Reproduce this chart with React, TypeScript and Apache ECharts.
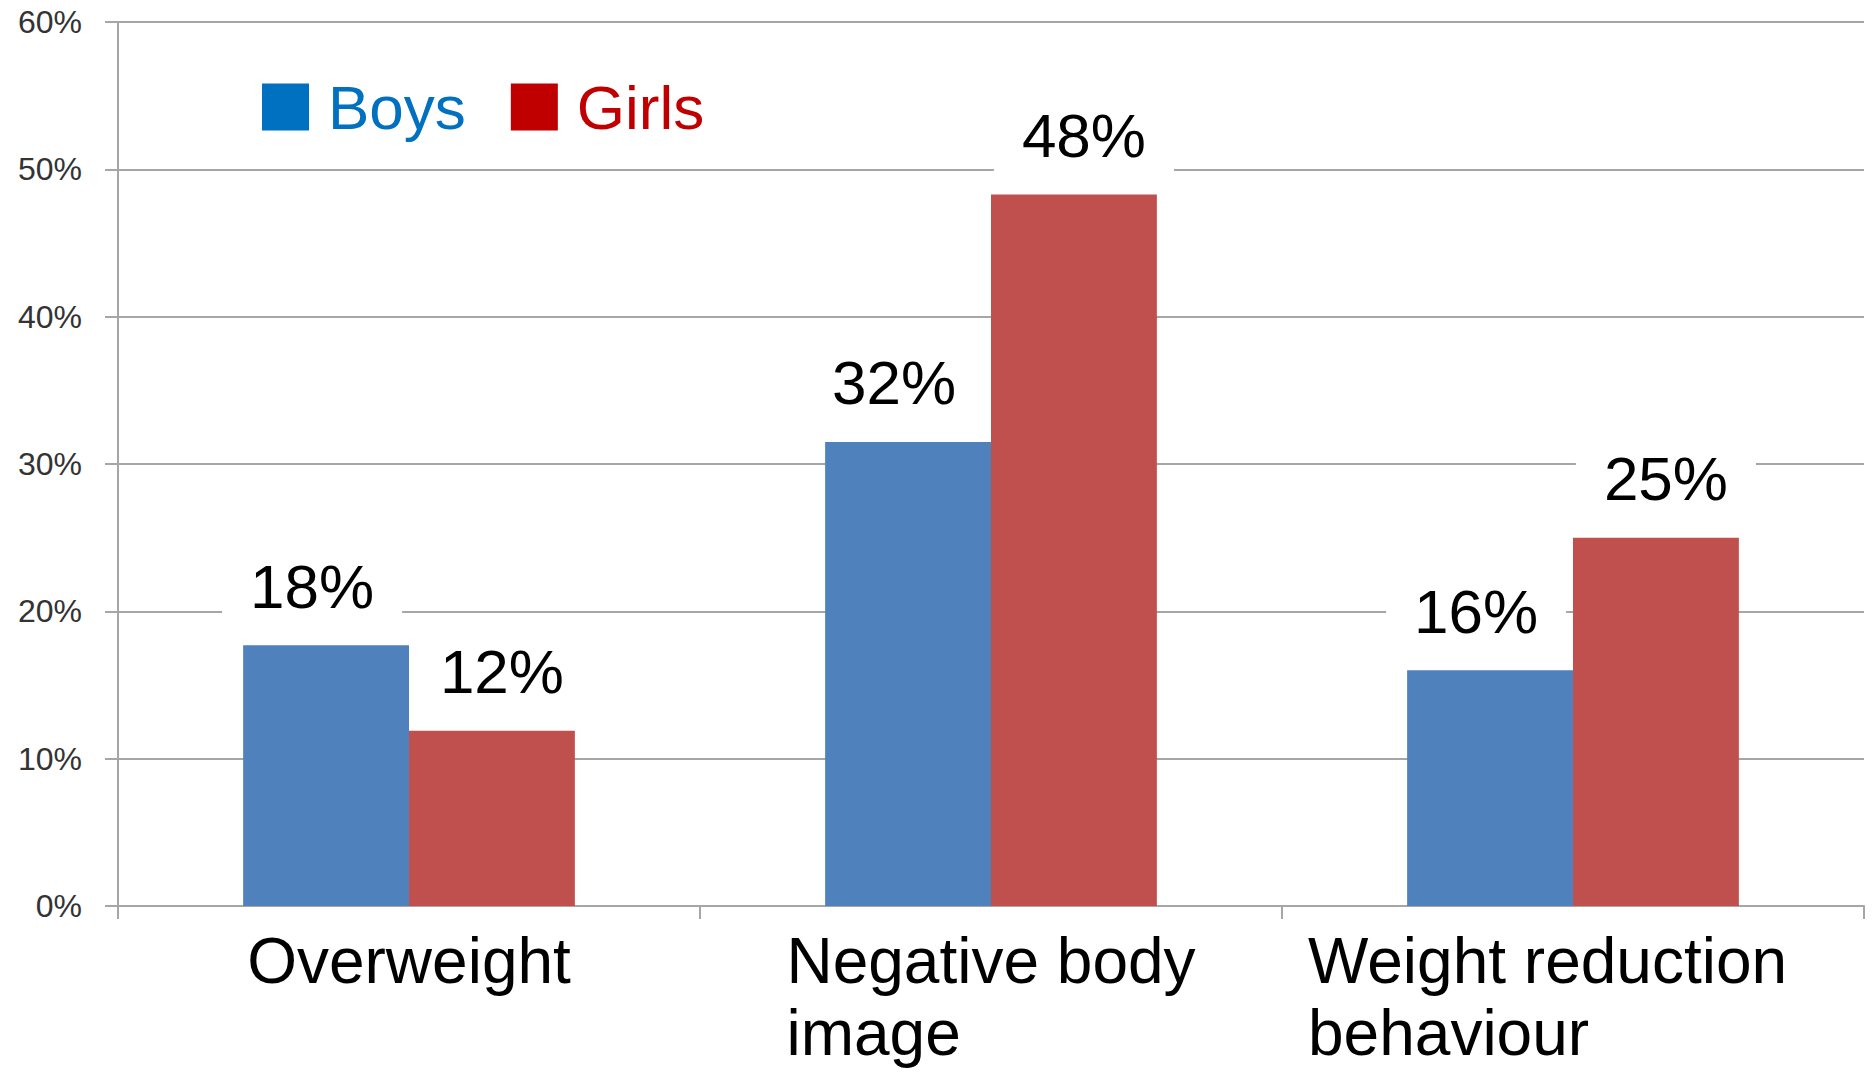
import React, { useEffect, useRef } from "react";
import * as echarts from "echarts";

const categories = ["Overweight", "Negative body\nimage", "Weight reduction\nbehaviour"];
const seriesNames = ["Boys", "Girls"];
const boysValues = [17.7, 31.5, 16.0];
const girlsValues = [11.9, 48.3, 25.0];
const yMin = 0;
const yMax = 60;
const yInterval = 10;

const BOY_BAR = "#4F81BD";
const GIRL_BAR = "#C0504D";
const BOY_LEGEND = "#0070C0";
const GIRL_LEGEND = "#C00000";
const GRID_GRAY = "#a6a6a6";
const FONT = "'Liberation Sans', Arial, sans-serif";

export default function App() {
  const ref = useRef<HTMLDivElement>(null);

  useEffect(() => {
    document.body.style.margin = "0";
    if (!ref.current) return;
    const chart = echarts.init(ref.current, undefined, { renderer: "svg" });

    const barLabel = (offsetX: number) => ({
      show: true,
      position: "top",
      distance: 20,
      offset: [offsetX, 0],
      formatter: (p: any) => Math.round(p.value) + "%",
      fontFamily: FONT,
      fontSize: 62,
      color: "#000",
      backgroundColor: "#fff",
      padding: [4, 28, 8, 28],
    });

    const catRich: any = {};
    const blockWidths = [0, 0, 530];
    categories.forEach((_, i) => {
      const s: any = {
        fontFamily: FONT,
        fontSize: 64,
        lineHeight: 72,
        color: "#000",
        align: "left",
      };
      if (blockWidths[i]) s.width = blockWidths[i];
      catRich["c" + i] = s;
    });

    chart.setOption({
      animation: false,
      grid: { left: 118, right: 12, top: 22, bottom: 166, containLabel: false },
      legend: {
        left: 262,
        top: 76,
        padding: 0,
        icon: "rect",
        itemWidth: 47,
        itemHeight: 47,
        itemGap: 45,
        selectedMode: false,
        textStyle: {
          fontFamily: FONT,
          fontSize: 62,
          lineHeight: 47,
          padding: [0, 0, 0, 14],
        },
        data: [
          { name: seriesNames[0], itemStyle: { color: BOY_LEGEND }, textStyle: { color: BOY_LEGEND } },
          { name: seriesNames[1], itemStyle: { color: GIRL_LEGEND }, textStyle: { color: GIRL_LEGEND } },
        ],
      },
      xAxis: {
        type: "category",
        data: categories,
        axisLine: { show: true, lineStyle: { color: GRID_GRAY, width: 2 } },
        axisTick: { show: true, length: 13, lineStyle: { color: GRID_GRAY, width: 2 } },
        axisLabel: {
          interval: 0,
          margin: 19,
          formatter: (value: string, index: number) =>
            value
              .split("\n")
              .map((l) => `{c${index}|${l}}`)
              .join("\n"),
          rich: catRich,
        },
        splitLine: { show: false },
      },
      yAxis: {
        type: "value",
        min: yMin,
        max: yMax,
        interval: yInterval,
        axisLine: { show: true, lineStyle: { color: GRID_GRAY, width: 2 } },
        axisTick: { show: true, length: 13, lineStyle: { color: GRID_GRAY, width: 2 } },
        axisLabel: {
          formatter: "{value}%",
          margin: 36,
          fontFamily: FONT,
          fontSize: 32,
          color: "#333",
        },
        splitLine: { show: true, lineStyle: { color: GRID_GRAY, width: 2 } },
      },
      series: [
        {
          name: seriesNames[0],
          type: "bar",
          data: boysValues,
          barGap: "0%",
          barCategoryGap: "43%",
          itemStyle: { color: BOY_BAR },
          label: barLabel(-14),
        },
        {
          name: seriesNames[1],
          type: "bar",
          data: girlsValues,
          barGap: "0%",
          barCategoryGap: "43%",
          itemStyle: { color: GIRL_BAR },
          label: barLabel(10),
        },
      ],
    });

    return () => chart.dispose();
  }, []);

  return (
    <div
      ref={ref}
      style={{ position: "absolute", left: 0, top: 0, width: 1876, height: 1072, background: "#fff" }}
    />
  );
}
